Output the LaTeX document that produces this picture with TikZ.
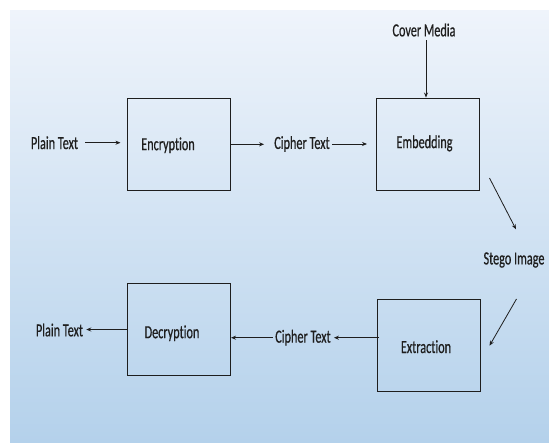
\documentclass[tikz,border=0pt]{standalone}
\usepackage{fontspec}
\newfontfamily\etiqfont{Carlito}[FakeStretch=0.66, FakeBold=0.5, RawFeature={-liga}]
\usetikzlibrary{arrows.meta}
\definecolor{fondoarriba}{RGB}{239,244,251}
\definecolor{fondoabajo}{RGB}{180,209,235}
\definecolor{trazo}{RGB}{30,30,30}
\begin{document}
\begin{tikzpicture}[x=1pt, y=-1pt,
    texto/.style={inner sep=0pt, text=trazo, font=\etiqfont\fontsize{18.5}{22}\selectfont},
    caja/.style={draw=trazo, line width=1pt, rectangle, minimum width=103pt, minimum height=92.5pt, inner sep=0pt},
    flecha/.style={draw=trazo, line width=0.8pt, -{Stealth[length=5pt, width=4pt]}}]
    \fill[white] (0,0) rectangle (549,442); % Fondo blanco del borde
    \useasboundingbox (0,0) rectangle (549,442);
    \shade[top color=fondoarriba, bottom color=fondoabajo] (10,10) rectangle (549,442); % Degradado azul

    \node[caja, label={[texto, xshift=-10.5pt, yshift=-1pt]center:Encryption}] (encrip) at (178.5,144.3) {}; % Cuadro de cifrado
    \node[caja, label={[texto, xshift=-3pt, yshift=1pt]center:Embedding}] (incrust) at (427.5,144.3) {}; % Cuadro de incrustado
    \node[caja, label={[texto, xshift=-7pt, yshift=-3.8pt]center:Decryption}] (descif) at (179,329.5) {}; % Cuadro de descifrado
    \node[caja, label={[texto, xshift=-2.5pt, yshift=-1pt]center:Extraction}] (extrac) at (428.5,345.7) {}; % Cuadro de extraccion

    \node[texto] (planoA) at (54.5,142.7) {Plain Text};
    \node[texto] (cifradoA) at (302,144) {Cipher Text};
    \node[texto] (portada) at (424,30) {Cover Media};
    \node[texto] (estego) at (514,260) {Stego Image};
    \node[texto] (cifradoB) at (303,337.7) {Cipher Text};
    \node[texto] (planoB) at (59.5,330) {Plain Text};

    \draw[flecha, shorten <=7pt, shorten >=6pt] (planoA.east) -- (planoA.east -| encrip.west); % Texto plano a cifrado
    \draw[flecha, shorten >=10pt] (encrip.east) -- (encrip.east -| cifradoA.west);
    \draw[flecha, shorten <=2.5pt, shorten >=8.5pt] (cifradoA.east) -- (cifradoA.east -| incrust.west);
    \draw[flecha, shorten <=3.5pt] ([xshift=2pt]portada.south) -- ([xshift=2pt]portada.south |- incrust.north); % Medio portador
    \draw[flecha] ([shift={(10,-13)}]incrust.south east) -- ([shift={(2,-30.7)}]estego.center); % Hacia la imagen
    \draw[flecha] ([xshift=36pt]extrac.north east) -- ([xshift=9pt]extrac.east); % Desde la imagen
    \draw[flecha, shorten <=-2.5pt, shorten >=3pt] (cifradoB.east -| extrac.west) -- (cifradoB.east);
    \draw[flecha, shorten <=2.5pt] (cifradoB.west) -- (cifradoB.west -| descif.east);
    \draw[flecha, shorten >=3pt] (descif.west) -- (descif.west -| planoB.east); % Texto plano recuperado
\end{tikzpicture}
\end{document}
